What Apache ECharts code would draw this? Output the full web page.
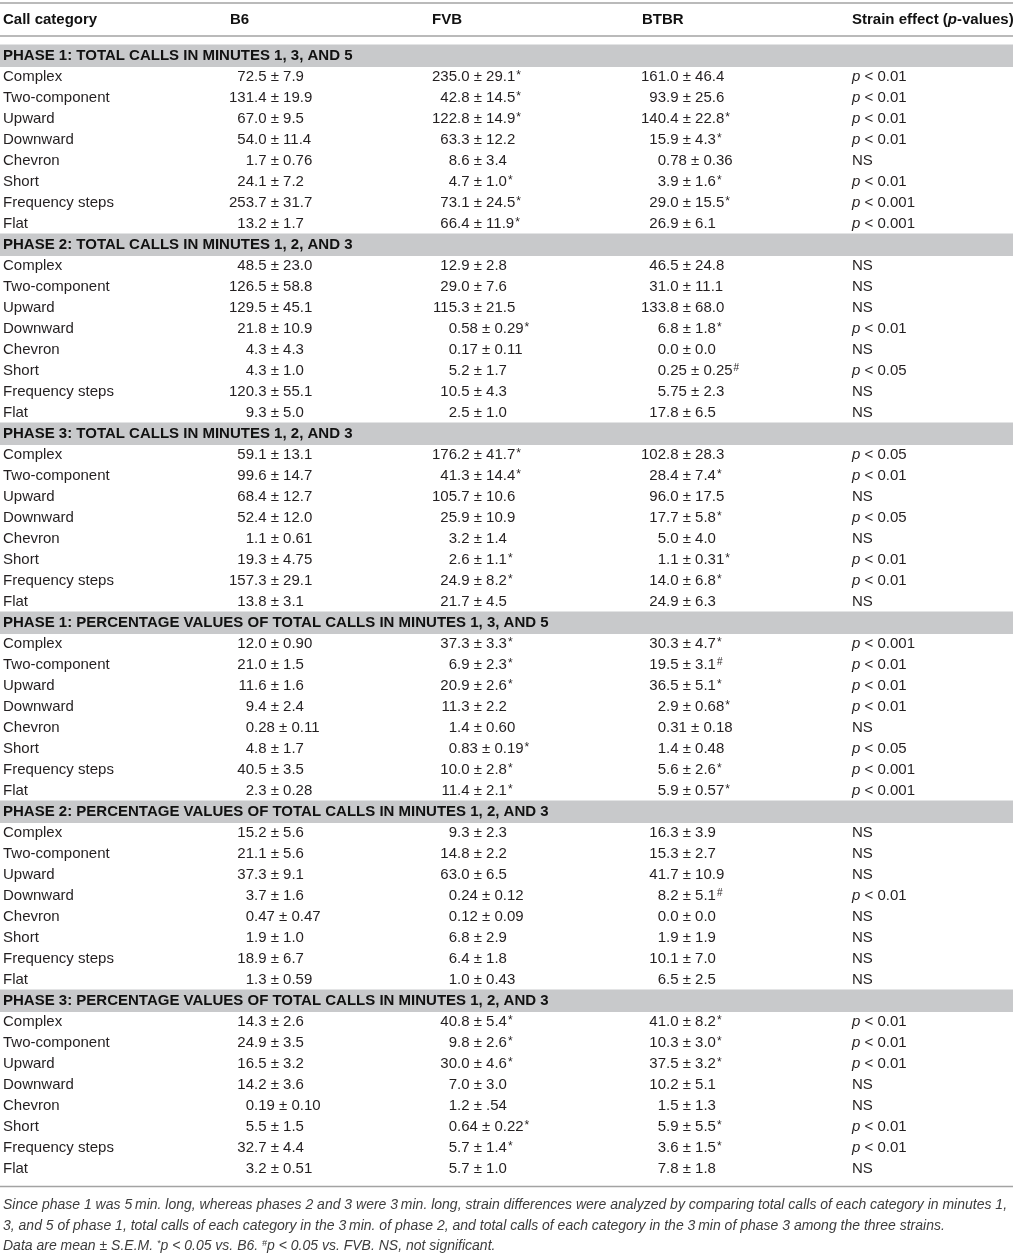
<!DOCTYPE html>
<html>
<head>
<meta charset="utf-8">
<script src="https://cdn.jsdelivr.net/npm/echarts@6/dist/echarts.min.js"></script>
<style>
html, body { margin: 0; padding: 0; background: #fff; }
#main { width: 1013px; height: 1258px; }
</style>
</head>
<body>
<div id="main"></div>
<script>
// table content
const headers = ['Call category', 'B6', 'FVB', 'BTBR', 'Strain effect (p-values)']
const categories = ['Complex', 'Two-component', 'Upward', 'Downward', 'Chevron', 'Short', 'Frequency steps', 'Flat']
const phases = [
  'PHASE 1: TOTAL CALLS IN MINUTES 1, 3, AND 5',
  'PHASE 2: TOTAL CALLS IN MINUTES 1, 2, AND 3',
  'PHASE 3: TOTAL CALLS IN MINUTES 1, 2, AND 3',
  'PHASE 1: PERCENTAGE VALUES OF TOTAL CALLS IN MINUTES 1, 3, AND 5',
  'PHASE 2: PERCENTAGE VALUES OF TOTAL CALLS IN MINUTES 1, 2, AND 3',
  'PHASE 3: PERCENTAGE VALUES OF TOTAL CALLS IN MINUTES 1, 2, AND 3'
]
const b6 = [
  ['72.5 ± 7.9', '131.4 ± 19.9', '67.0 ± 9.5', '54.0 ± 11.4', '1.7 ± 0.76', '24.1 ± 7.2', '253.7 ± 31.7', '13.2 ± 1.7'],
  ['48.5 ± 23.0', '126.5 ± 58.8', '129.5 ± 45.1', '21.8 ± 10.9', '4.3 ± 4.3', '4.3 ± 1.0', '120.3 ± 55.1', '9.3 ± 5.0'],
  ['59.1 ± 13.1', '99.6 ± 14.7', '68.4 ± 12.7', '52.4 ± 12.0', '1.1 ± 0.61', '19.3 ± 4.75', '157.3 ± 29.1', '13.8 ± 3.1'],
  ['12.0 ± 0.90', '21.0 ± 1.5', '11.6 ± 1.6', '9.4 ± 2.4', '0.28 ± 0.11', '4.8 ± 1.7', '40.5 ± 3.5', '2.3 ± 0.28'],
  ['15.2 ± 5.6', '21.1 ± 5.6', '37.3 ± 9.1', '3.7 ± 1.6', '0.47 ± 0.47', '1.9 ± 1.0', '18.9 ± 6.7', '1.3 ± 0.59'],
  ['14.3 ± 2.6', '24.9 ± 3.5', '16.5 ± 3.2', '14.2 ± 3.6', '0.19 ± 0.10', '5.5 ± 1.5', '32.7 ± 4.4', '3.2 ± 0.51']
]
const fvb = [
  ['235.0 ± 29.1*', '42.8 ± 14.5*', '122.8 ± 14.9*', '63.3 ± 12.2', '8.6 ± 3.4', '4.7 ± 1.0*', '73.1 ± 24.5*', '66.4 ± 11.9*'],
  ['12.9 ± 2.8', '29.0 ± 7.6', '115.3 ± 21.5', '0.58 ± 0.29*', '0.17 ± 0.11', '5.2 ± 1.7', '10.5 ± 4.3', '2.5 ± 1.0'],
  ['176.2 ± 41.7*', '41.3 ± 14.4*', '105.7 ± 10.6', '25.9 ± 10.9', '3.2 ± 1.4', '2.6 ± 1.1*', '24.9 ± 8.2*', '21.7 ± 4.5'],
  ['37.3 ± 3.3*', '6.9 ± 2.3*', '20.9 ± 2.6*', '11.3 ± 2.2', '1.4 ± 0.60', '0.83 ± 0.19*', '10.0 ± 2.8*', '11.4 ± 2.1*'],
  ['9.3 ± 2.3', '14.8 ± 2.2', '63.0 ± 6.5', '0.24 ± 0.12', '0.12 ± 0.09', '6.8 ± 2.9', '6.4 ± 1.8', '1.0 ± 0.43'],
  ['40.8 ± 5.4*', '9.8 ± 2.6*', '30.0 ± 4.6*', '7.0 ± 3.0', '1.2 ± .54', '0.64 ± 0.22*', '5.7 ± 1.4*', '5.7 ± 1.0']
]
const btbr = [
  ['161.0 ± 46.4', '93.9 ± 25.6', '140.4 ± 22.8*', '15.9 ± 4.3*', '0.78 ± 0.36', '3.9 ± 1.6*', '29.0 ± 15.5*', '26.9 ± 6.1'],
  ['46.5 ± 24.8', '31.0 ± 11.1', '133.8 ± 68.0', '6.8 ± 1.8*', '0.0 ± 0.0', '0.25 ± 0.25#', '5.75 ± 2.3', '17.8 ± 6.5'],
  ['102.8 ± 28.3', '28.4 ± 7.4*', '96.0 ± 17.5', '17.7 ± 5.8*', '5.0 ± 4.0', '1.1 ± 0.31*', '14.0 ± 6.8*', '24.9 ± 6.3'],
  ['30.3 ± 4.7*', '19.5 ± 3.1#', '36.5 ± 5.1*', '2.9 ± 0.68*', '0.31 ± 0.18', '1.4 ± 0.48', '5.6 ± 2.6*', '5.9 ± 0.57*'],
  ['16.3 ± 3.9', '15.3 ± 2.7', '41.7 ± 10.9', '8.2 ± 5.1#', '0.0 ± 0.0', '1.9 ± 1.9', '10.1 ± 7.0', '6.5 ± 2.5'],
  ['41.0 ± 8.2*', '10.3 ± 3.0*', '37.5 ± 3.2*', '10.2 ± 5.1', '1.5 ± 1.3', '5.9 ± 5.5*', '3.6 ± 1.5*', '7.8 ± 1.8']
]
const pvalues = [
  ['p < 0.01', 'p < 0.01', 'p < 0.01', 'p < 0.01', 'NS', 'p < 0.01', 'p < 0.001', 'p < 0.001'],
  ['NS', 'NS', 'NS', 'p < 0.01', 'NS', 'p < 0.05', 'NS', 'NS'],
  ['p < 0.05', 'p < 0.01', 'NS', 'p < 0.05', 'NS', 'p < 0.01', 'p < 0.01', 'NS'],
  ['p < 0.001', 'p < 0.01', 'p < 0.01', 'p < 0.01', 'NS', 'p < 0.05', 'p < 0.001', 'p < 0.001'],
  ['NS', 'NS', 'NS', 'p < 0.01', 'NS', 'NS', 'NS', 'NS'],
  ['p < 0.01', 'p < 0.01', 'p < 0.01', 'NS', 'NS', 'p < 0.01', 'p < 0.01', 'NS']
]
const footnotes = [
  'Since phase 1 was 5\u2009min. long, whereas phases 2 and 3 were 3\u2009min. long, strain differences were analyzed by comparing total calls of each category in minutes 1,',
  '3, and 5 of phase 1, total calls of each category in the 3\u2009min. of phase 2, and total calls of each category in the 3\u2009min of phase 3 among the three strains.',
  'Data are mean ± S.E.M. *p < 0.05 vs. B6. #p < 0.05 vs. FVB. NS, not significant.'
]

// layout (x in px, y in row units)
const FONT = '"Liberation Sans", Arial, Helvetica, sans-serif'
const INK = '#231f20'
const headX = [3, 230, 432, 642, 852]
const decX = [254, 457, 666] // decimal point of each strain column
const labelX = 3
const pX = 852
const headRow = -1.72
const rules = [-2.52, -0.95, 53.83]
const noteRows = [54.71, 55.71, 56.68]

// row list built from the arrays
const rows = []
phases.forEach((ph, p) => {
  rows.push([p * 9, p, -1])
  categories.forEach((c, k) => rows.push([p * 9 + k + 1, p, k]))
})

function plainText (txt, x, y, font, align, fill) {
  return {
    type: 'text',
    x: x,
    y: y,
    style: { text: txt, font: font, fill: fill || INK, textAlign: align || 'left', textVerticalAlign: 'middle' }
  }
}

// value like '235.0 ± 29.1*' -> integer part right of decimal, rest left
function valueCell (s, x, y) {
  const i = s.indexOf('.')
  let rest = s.slice(i)
  let mark = ''
  const last = rest.charAt(rest.length - 1)
  if (last === '*' || last === '#') {
    mark = last
    rest = rest.slice(0, -1)
  }
  const kids = [plainText(s.slice(0, i), x, y, '15px ' + FONT, 'right')]
  kids.push({
    type: 'text',
    x: x,
    y: y,
    style: {
      text: '{n|' + rest + '}' + (mark ? '{s|' + mark + '}' : ''),
      fill: INK,
      textAlign: 'left',
      textVerticalAlign: 'middle',
      rich: {
        n: { font: '15px ' + FONT, fill: INK },
        s: { font: (mark === '#' ? '10px ' : '12px ') + FONT, fill: INK, verticalAlign: 'top', padding: [0, 0, 0, 1] }
      }
    }
  })
  return kids
}

function pCell (s, x, y) {
  if (s.charAt(0) !== 'p') return [plainText(s, x, y, '15px ' + FONT, 'left')]
  return [{
    type: 'text',
    x: x,
    y: y,
    style: {
      text: '{i|p}{n|' + s.slice(1) + '}',
      textAlign: 'left',
      textVerticalAlign: 'middle',
      rich: {
        i: { font: 'italic 15px ' + FONT, fill: INK },
        n: { font: '15px ' + FONT, fill: INK }
      }
    }
  }]
}

function renderBand (params, api) {
  const a = api.coord([0, api.value(0) - 0.55])
  const b = api.coord([1013, api.value(0) + 0.52])
  return { type: 'rect', shape: { x: a[0], y: a[1], width: b[0] - a[0], height: b[1] - a[1] }, style: { fill: '#c8c9cb' } }
}

function renderRow (params, api) {
  const r = api.value(0)
  const p = api.value(1)
  const k = api.value(2)
  const y = api.coord([0, r])[1]
  const X = v => api.coord([v, r])[0]
  if (k < 0) {
    return plainText(phases[p], X(labelX), y, 'bold 15px ' + FONT, 'left', '#111')
  }
  let kids = [plainText(categories[k], X(labelX), y, '15px ' + FONT, 'left')]
  ;[b6, fvb, btbr].forEach((arr, j) => {
    kids = kids.concat(valueCell(arr[p][k], X(decX[j]), y))
  })
  kids = kids.concat(pCell(pvalues[p][k], X(pX), y))
  return { type: 'group', children: kids }
}

function renderRule (params, api) {
  const a = api.coord([0, api.value(0)])
  const b = api.coord([1013, api.value(0)])
  return { type: 'line', shape: { x1: a[0], y1: a[1], x2: b[0], y2: a[1] }, style: { stroke: '#a3a3a3', lineWidth: 1.5 } }
}

function renderHeader (params, api) {
  const j = api.value(1)
  const pt = api.coord([headX[j], api.value(0)])
  const txt = headers[j]
  if (txt.indexOf('(p-') < 0) return plainText(txt, pt[0], pt[1], 'bold 15px ' + FONT, 'left', '#111')
  const parts = txt.split('(p-')
  return {
    type: 'text',
    x: pt[0],
    y: pt[1],
    style: {
      text: '{b|' + parts[0] + '(}{i|p}{b|-' + parts[1] + '}',
      textAlign: 'left',
      textVerticalAlign: 'middle',
      rich: {
        b: { font: 'bold 15px ' + FONT, fill: '#111' },
        i: { font: 'italic bold 15px ' + FONT, fill: '#111' }
      }
    }
  }
}

function renderNote (params, api) {
  const j = api.value(1)
  const pt = api.coord([labelX, api.value(0)])
  const f = 'italic 14px ' + FONT
  let txt = footnotes[j]
  const rich = { n: { font: f, fill: '#3c3c3c' }, s: { font: 'italic 9px ' + FONT, fill: '#3c3c3c', verticalAlign: 'top' } }
  // superscript markers in the last note
  txt = txt.replace(/\*p/, '}{s|*}{n|p').replace(/#p/, '}{s|#}{n|p')
  return {
    type: 'text',
    x: pt[0],
    y: pt[1],
    style: { text: '{n|' + txt + '}', textAlign: 'left', textVerticalAlign: 'middle', rich: rich }
  }
}

const chart = echarts.init(document.getElementById('main'), null, { renderer: 'canvas' })
chart.setOption({
  animation: false,
  backgroundColor: '#fff',
  grid: { left: 0, top: 56, width: 1013, height: 21 * 53 },
  xAxis: { type: 'value', min: 0, max: 1013, show: false },
  yAxis: { type: 'value', min: 0, max: 53, inverse: true, show: false },
  series: [
    { type: 'custom', name: 'bands', clip: false, renderItem: renderBand, data: phases.map((ph, p) => [p * 9]), silent: true },
    { type: 'custom', name: 'rules', clip: false, renderItem: renderRule, data: rules.map(r => [r]), silent: true },
    { type: 'custom', name: 'header', clip: false, renderItem: renderHeader, data: headers.map((h, j) => [headRow, j]), silent: true },
    { type: 'custom', name: 'rows', clip: false, renderItem: renderRow, data: rows, silent: true },
    { type: 'custom', name: 'notes', clip: false, renderItem: renderNote, data: footnotes.map((n, j) => [noteRows[j], j]), silent: true }
  ]
})
</script>
</body>
</html>
